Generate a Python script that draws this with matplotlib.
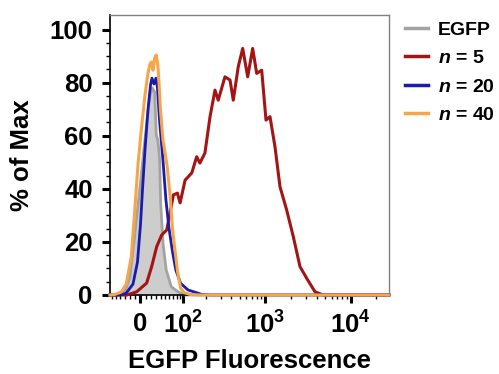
import numpy as np
import matplotlib
matplotlib.use("Agg")
import matplotlib.pyplot as plt

plt.rcParams["font.family"] = ["Liberation Sans", "DejaVu Sans"]
plt.rcParams["font.weight"] = "bold"
plt.rcParams["axes.labelweight"] = "bold"
plt.rcParams["mathtext.fontset"] = "custom"
plt.rcParams["mathtext.rm"] = "Liberation Sans:bold"
plt.rcParams["mathtext.bf"] = "Liberation Sans:bold"
plt.rcParams["mathtext.it"] = "Liberation Sans:italic:bold"

# histogram outlines (EGFP fluorescence, % of max)
gray_x = [-64, -49.5, -40.6, -30.0, -20.0, -10.4, -0.9, 8.5, 14.2, 18.1, 23.0, 27.4,
          30.7, 34.2, 37.8, 39.9, 45.0, 52.5, 64.9, 83.5, 105.7, 28000]
gray_y = [0, 0, 0.4, 1.2, 6.8, 23.4, 40.7, 58.8, 68.9, 75.3, 78.0, 76.5,
          60.3, 58.1, 51.0, 34.7, 19.6, 9.4, 3.1, 1.2, 0, 0]

red_x = [-64, -26, -7.2, 11.7, 21.4, 31.5, 42.1, 53.6, 61.7, 70.3, 81.4, 89.6, 105.7,
         117.3, 130.4, 151, 166, 192, 222, 255, 279, 336, 386, 422, 483, 545, 624,
         714, 796, 911, 1023, 1139, 1303, 1491, 1786, 2133, 2554, 3059, 3825, 4782, 28000]
red_y = [0, 0, 1.2, 4.5, 10.7, 18.2, 22.6, 24.5, 30.9, 37.7, 38.4, 34.7, 43.3,
         44.6, 46.0, 52.1, 49.7, 53.5, 67.2, 77.2, 73.4, 82.2, 81.0, 73.4, 86.0, 92.9, 82.2,
         92.9, 83.5, 84.7, 65.9, 67.2, 55.9, 40.8, 32.0, 22.0, 10.7, 6.3, 1.2, 0, 0]

blue_x = [-64, -40.6, -28.0, -14.2, -5.65, 0, 3.8, 8.5, 14.2, 19.1, 22.0, 26.0, 30.0,
          33.1, 37.4, 45.0, 51.8, 59.1, 68.2, 77.1, 91.2, 116, 149, 176, 222, 28000]
blue_y = [0, 0, 0.6, 4.1, 12.4, 26.4, 39.6, 54.6, 69.7, 79.1, 81.7, 79.5, 81.7,
          78.0, 65.9, 50.8, 35.8, 25.2, 16.2, 9.4, 4.4, 1.9, 0.9, 0.2, 0, 0]

orange_x = [-64, -52.5, -37.8, -27.4, -17.5, -11.0, -4.7, 1.5, 8.5, 14.2, 18.1, 21.0,
            24.0, 27.4, 30.7, 34.2, 36.3, 39.5, 45.0, 54.3, 61.7, 68.2, 74.7, 82.1,
            91.2, 102.2, 124, 166, 28000]
orange_y = [0, 0.2, 1.1, 4.1, 14.3, 31.3, 49.0, 62.1, 75.3, 83.6, 87.0, 87.8,
            84.7, 89.3, 90.4, 85.9, 80.2, 69.7, 58.4, 49.0, 37.7, 24.5, 16.9, 8.7,
            2.6, 0.9, 0.2, 0, 0]

labels = ["EGFP", r"$n$ = 5", r"$n$ = 20", r"$n$ = 40"]
xticks = [0, 100, 1000, 10000]
xticklabels = ["0", r"$\mathbf{10^{2}}$", r"$\mathbf{10^{3}}$", r"$\mathbf{10^{4}}$"]
xminor = ([-60, -50, -40, -30, -20, -10, 10, 20, 30, 40, 50, 60, 70, 80, 90]
          + [k * 100 for k in range(2, 10)] + [k * 1000 for k in range(2, 10)] + [20000])

C = 70.0  # linear width of the biexponential-like display


def fwd(x):
    return np.arcsinh(np.asarray(x, dtype=float) / C)


def inv(y):
    return C * np.sinh(y)


fig = plt.figure(figsize=(4.99, 3.74), dpi=100)
ax = fig.add_axes([110 / 499, 1 - 295 / 374, 279 / 499, 280 / 374])
ax.set_xscale("function", functions=(fwd, inv))

ax.fill_between(gray_x, gray_y, 0, color="#cdcdcd", lw=0, zorder=1)
ax.plot(gray_x, gray_y, color="#a3a3a3", lw=2.0, label=labels[0], zorder=2, clip_on=False)
ax.plot(red_x, red_y, color="#a31515", lw=2.2, label=labels[1], zorder=3, clip_on=False)
ax.plot(blue_x, blue_y, color="#1a1aad", lw=2.0, label=labels[2], zorder=4, clip_on=False)
ax.plot(orange_x, orange_y, color="#f5a54a", lw=2.2, label=labels[3], zorder=5, clip_on=False)

ax.set_xlim(-64, 28000)
ax.set_ylim(0, 105.5)

ax.set_xticks(xticks)
ax.set_xticklabels(xticklabels)
ax.set_xticks(xminor, minor=True)
ax.set_yticks([0, 20, 40, 60, 80, 100])
ax.set_yticks(np.arange(5, 105, 5), minor=True)
ax.tick_params(which="major", length=6, width=2.2, labelsize=18.5, pad=6)
ax.tick_params(axis="y", which="major", pad=6.5)
ax.tick_params(which="minor", length=3, width=1)

for s in ["top", "right"]:
    ax.spines[s].set_color("#808080")
    ax.spines[s].set_linewidth(1)
for s in ["left", "bottom"]:
    ax.spines[s].set_color("black")
    ax.spines[s].set_linewidth(1.2)

ax.set_xlabel("EGFP Fluorescence", fontsize=18.5, fontweight="bold", va="center")
ax.xaxis.set_label_coords(0.5, (295 - 361) / 280)
ax.set_ylabel("% of Max", fontsize=18.5, fontweight="bold", va="center", ha="center")
ax.yaxis.set_label_coords((22.5 - 110) / 279, 0.5)

fig.legend(loc="upper left", bbox_to_anchor=(405 / 499, 1 - 21 / 374), frameon=False,
           fontsize=14, handlelength=1.2, handletextpad=0.5, labelspacing=0.56,
           borderpad=0, borderaxespad=0)
leg = fig.legends[0]
for line in leg.get_lines():
    line.set_linewidth(2.5)

fig.savefig("out.png", dpi=100)
